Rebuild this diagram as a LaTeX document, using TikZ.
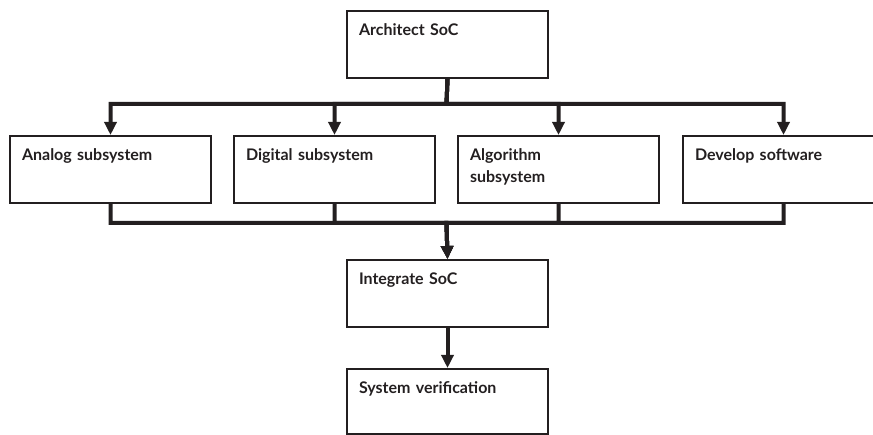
\documentclass[tikz,border=0pt]{standalone}
\usepackage{fontspec}
\setmainfont{Lato}
\usetikzlibrary{arrows.meta}
\newlength{\du}
\setlength{\du}{15\unitlength}
\definecolor{inkcolor}{rgb}{0.137255, 0.121569, 0.125490}
\tikzset{
  stepbox/.style={draw=inkcolor, line width=0.133333\du, anchor=north west,
    inner xsep=0.800000\du, inner ysep=0.866667\du, text width=11.800000\du,
    text height=0.766667\du, text depth=1.966667\du, align=left,
    font=\bfseries\fontsize{16}{22}\selectfont, text=inkcolor},
  flow/.style={draw=inkcolor, line width=0.266667\du, line join=miter,
    -{Triangle[width=12pt, length=13pt]}},
}

\begin{document}
\begin{tikzpicture}
\pgftransformxscale{1.000000}
\pgftransformyscale{-1.000000}
\clip (0\du,0\du) rectangle (58.200000\du,29.000000\du);
% boxes
\node[stepbox] (arch) at (23.066667\du,0.666667\du){Architect SoC};
\node[stepbox] (analog) at (0.600000\du,9.000000\du){Analog subsystem};
\node[stepbox] (digital) at (15.533333\du,9.000000\du){Digital subsystem};
\node[stepbox] (algo) at (30.466667\du,9.000000\du){Algorithm\\subsystem};
\node[stepbox] (develop) at (45.466667\du,9.000000\du){Develop software};
\node[stepbox] (integ) at (23.066667\du,17.266667\du){Integrate SoC};
\node[stepbox, text depth=1.833333\du] (verif) at (23.066667\du,24.533333\du){System verification};
% bus points
\coordinate (topbus) at (29.766667\du,6.933333\du);
\coordinate (lowbus) at (29.766667\du,14.866667\du);
% fan out
\draw[flow] (arch.south) -- (topbus) -| (analog.north);
\draw[flow] (arch.south) -- (topbus) -| (digital.north);
\draw[flow] (arch.south) -- (topbus) -| (algo.north);
\draw[flow] (arch.south) -- (topbus) -| (develop.north);
% fan in
\draw[flow] (analog.south) |- (lowbus) -- (integ.north);
\draw[flow] (digital.south) |- (lowbus) -- (integ.north);
\draw[flow] (algo.south) |- (lowbus) -- (integ.north);
\draw[flow] (develop.south) |- (lowbus) -- (integ.north);
\draw[flow] (integ.south) -- (verif.north);
\end{tikzpicture}
\end{document}
